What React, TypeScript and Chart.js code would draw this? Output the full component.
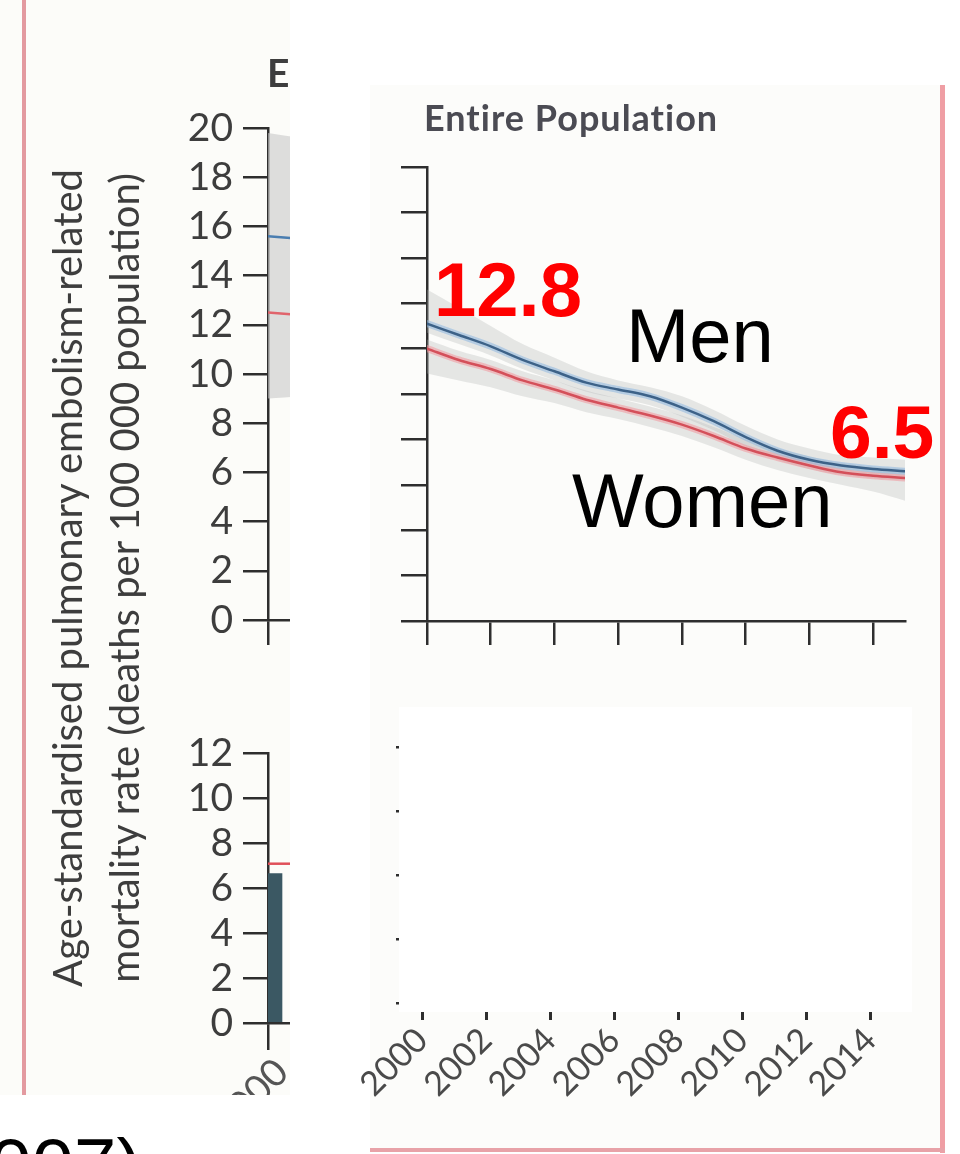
import React, { useEffect, useRef } from "react";
import { Chart, registerables } from "chart.js";

Chart.register(...registerables);

// ---------------- data ----------------
const years = [2000, 2001, 2002, 2003, 2004, 2005, 2006, 2007, 2008, 2009, 2010, 2011, 2012, 2013, 2014, 2015];
const menRate = [13.1, 12.6, 12.1, 11.5, 11.0, 10.5, 10.2, 9.9, 9.4, 8.8, 8.1, 7.5, 7.1, 6.85, 6.7, 6.6];
const womenRate = [12.0, 11.5, 11.1, 10.6, 10.2, 9.75, 9.4, 9.05, 8.65, 8.15, 7.6, 7.2, 6.85, 6.55, 6.4, 6.3];
const menUpper = [14.6, 13.8, 13.0, 12.2, 11.6, 11.0, 10.6, 10.3, 9.9, 9.3, 8.6, 8.0, 7.6, 7.3, 7.2, 7.1];
const menLower = [12.7, 12.2, 11.7, 11.1, 10.6, 10.1, 9.8, 9.5, 9.0, 8.4, 7.7, 7.1, 6.7, 6.45, 6.3, 6.2];
const womenUpper = [12.4, 11.9, 11.5, 11.0, 10.6, 10.15, 9.8, 9.45, 9.05, 8.55, 8.0, 7.6, 7.25, 6.95, 6.8, 6.7];
const womenLower = [10.9, 10.6, 10.3, 9.9, 9.6, 9.2, 8.9, 8.55, 8.15, 7.65, 7.1, 6.65, 6.3, 6.0, 5.7, 5.3];

const leftYears = [2000, 2001];
const leftMen = [15.6, 15.5];
const leftWomen = [12.5, 12.4];
const leftBandUpper = [19.8, 19.6];
const leftBandLower = [9.0, 9.1];

const barCategories = ["2000"];
const barSeriesA = [6.64];
const barSeriesB = [null];
const referenceRate = [7.08];

const panelTitle = "Entire Population";
const yAxisTitle = ["Age-standardised pulmonary embolism-related", "mortality rate (deaths per 100 000 population)"];
const seriesNames = ["Men", "Women"];
const startValueLabel = "12.8";
const endValueLabel = "6.5";
const footnoteText = "(2007)";

// ---------------- helpers ----------------
const AXIS = "#2e2e2e";
const TICK_FONT = "Lato";
const pts = (xs: number[], ys: (number | null)[]) => xs.map((x, i) => ({ x, y: ys[i] }));

const grid = (len: number, width = 2.5) => ({
  drawOnChartArea: false,
  drawTicks: true,
  tickLength: len,
  color: AXIS,
  lineWidth: width,
});
const border = { display: true, color: AXIS, width: 2.5 };

const baseOptions = {
  animation: false,
  responsive: false,
  maintainAspectRatio: false,
  events: [],
  plugins: { legend: { display: false }, tooltip: { enabled: false }, title: { display: false } },
  elements: { point: { radius: 0 }, line: { tension: 0.4, cubicInterpolationMode: "monotone", borderCapStyle: "round" } },
};

const BAND = "rgba(175,178,178,0.3)";

// main (right, top) chart
const mainConfig: any = {
  type: "line",
  data: {
    datasets: [
      { data: pts(years, menRate), borderColor: "#3d6288", borderWidth: 2.5, fill: false, order: 0 },
      { data: pts(years, womenRate), borderColor: "#d4505a", borderWidth: 2.5, fill: false, order: 0 },
      { data: pts(years, menRate), borderColor: "rgba(140,182,222,0.55)", borderWidth: 7, fill: false, order: 1 },
      { data: pts(years, womenRate), borderColor: "rgba(240,150,155,0.55)", borderWidth: 7, fill: false, order: 1 },
      { data: pts(years, menUpper), borderWidth: 0, borderColor: "transparent", fill: "+1", backgroundColor: BAND, order: 2 },
      { data: pts(years, menLower), borderWidth: 0, borderColor: "transparent", fill: false, order: 2 },
      { data: pts(years, womenUpper), borderWidth: 0, borderColor: "transparent", fill: "+1", backgroundColor: BAND, order: 2 },
      { data: pts(years, womenLower), borderWidth: 0, borderColor: "transparent", fill: false, order: 2 },
    ],
  },
  options: {
    ...baseOptions,
    layout: { padding: { left: 31, top: 87, right: 25, bottom: 35 } },
    scales: {
      x: {
        type: "linear",
        min: 2000,
        max: 2015,
        ticks: { display: false, stepSize: 2, includeBounds: false },
        grid: grid(24),
        border,
        afterFit: (s: any) => { s.height = 24; },
      },
      y: {
        min: 0,
        max: 20,
        ticks: { display: false, stepSize: 2 },
        grid: grid(26),
        border,
        afterFit: (s: any) => { s.width = 26; },
      },
    },
  },
};

// left top partial chart
const leftTopConfig: any = {
  type: "line",
  data: {
    datasets: [
      { data: pts(leftYears, leftMen), borderColor: "#4a7db0", borderWidth: 2.5, fill: false, order: 0 },
      { data: pts(leftYears, leftWomen), borderColor: "#e0646c", borderWidth: 2.5, fill: false, order: 0 },
      { data: pts(leftYears, leftBandUpper), borderWidth: 0, borderColor: "transparent", fill: "+1", backgroundColor: "rgba(200,200,200,0.6)", order: 2 },
      { data: pts(leftYears, leftBandLower), borderWidth: 0, borderColor: "transparent", fill: false, order: 2 },
    ],
  },
  options: {
    ...baseOptions,
    layout: { padding: { left: 178, top: 48, right: 12, bottom: 34 } },
    scales: {
      x: {
        type: "linear",
        min: 2000,
        max: 2015,
        ticks: { display: false, stepSize: 2, includeBounds: false },
        grid: grid(25),
        border,
        afterFit: (s: any) => { s.height = 26; },
      },
      y: {
        min: 0,
        max: 20,
        ticks: { stepSize: 2, autoSkip: false, color: "#3d3d3d", padding: 10, font: { family: TICK_FONT, size: 39 } },
        grid: grid(25),
        border,
        afterFit: (s: any) => { s.width = 90; },
      },
    },
  },
};

const refLinePlugin = {
  id: "refLine",
  afterDatasetsDraw(chart: any) {
    const { ctx, chartArea, scales } = chart;
    const y = scales.y.getPixelForValue(referenceRate[0]);
    ctx.save();
    ctx.strokeStyle = "#e0505a";
    ctx.lineWidth = 2.5;
    ctx.beginPath();
    ctx.moveTo(chartArea.left, y);
    ctx.lineTo(chartArea.right, y);
    ctx.stroke();
    ctx.restore();
  },
};

// left bottom partial chart
const leftBottomConfig: any = {
  type: "bar",
  data: {
    labels: barCategories,
    datasets: [
      { data: barSeriesA, backgroundColor: "#3b5863", barPercentage: 1, categoryPercentage: 1 },
      { data: barSeriesB, backgroundColor: "#9aa8ad", barPercentage: 1, categoryPercentage: 1 },
    ],
  },
  options: {
    ...baseOptions,
    layout: { padding: { left: 178, top: 53, right: 80, bottom: 0 } },
    scales: {
      x: {
        ticks: { color: "#555", font: { family: TICK_FONT, size: 38 }, minRotation: 45, maxRotation: 45, padding: 0, autoSkip: false },
        grid: { ...grid(27), offset: true },
        border,
        afterFit: (s: any) => { s.height = 117; },
      },
      y: {
        min: 0,
        max: 12,
        ticks: { stepSize: 2, autoSkip: false, color: "#3d3d3d", padding: 10, font: { family: TICK_FONT, size: 39 } },
        grid: grid(25),
        border,
        afterFit: (s: any) => { s.width = 90; },
      },
    },
  },
  plugins: [refLinePlugin],
};

const whiteAreaPlugin = {
  id: "whiteArea",
  beforeDraw(chart: any) {
    const { ctx, chartArea } = chart;
    ctx.save();
    ctx.fillStyle = "#ffffff";
    ctx.fillRect(chartArea.left, chartArea.top, chartArea.right - chartArea.left, chartArea.bottom - chartArea.top);
    ctx.restore();
  },
};

// right bottom (empty) chart
const rightBottomConfig: any = {
  type: "line",
  data: { datasets: [] },
  options: {
    ...baseOptions,
    layout: { padding: { left: 66, top: 27, right: 18, bottom: 8 } },
    scales: {
      x: {
        type: "linear",
        min: 1999.28,
        max: 2015.3,
        ticks: { stepSize: 2, includeBounds: false, color: "#4a4a4a", font: { family: TICK_FONT, size: 34 }, minRotation: 45, maxRotation: 45, padding: 0, autoSkip: false, callback: (v: any) => String(v) },
        grid: grid(8, 3),
        border: { display: false },
        afterFit: (s: any) => { s.height = 130; },
      },
      y: {
        min: -0.14,
        max: 4.625,
        ticks: { display: false, stepSize: 1, includeBounds: false },
        grid: grid(3, 2.5),
        border: { display: false },
        afterFit: (s: any) => { s.width = 3; },
      },
    },
  },
  plugins: [whiteAreaPlugin],
};

function ChartBox({ left, top, width, height, config }: any) {
  const ref = useRef<HTMLCanvasElement>(null);
  useEffect(() => {
    const chart = new Chart(ref.current as HTMLCanvasElement, config);
    return () => chart.destroy();
  }, []);
  return (
    <canvas
      ref={ref}
      width={width}
      height={height}
      style={{ position: "absolute", left, top, width, height, display: "block" }}
    />
  );
}

const abs = (o: any) => ({ position: "absolute" as const, ...o });

export default function App() {
  return (
    <div style={{ position: "fixed", left: 0, top: 0, width: 960, height: 1154, overflow: "hidden", background: "#ffffff" }}>
      {/* left clipped panel */}
      <div style={abs({ left: 0, top: 0, width: 290, height: 1095, overflow: "hidden", background: "#fcfcf9" })}>
        <div style={abs({ left: 22, top: 0, width: 4, height: 1095, background: "#e39aa0" })} />
        <ChartBox left={0} top={80} width={760} height={600} config={leftTopConfig} />
        <ChartBox left={0} top={700} width={376} height={440} config={leftBottomConfig} />
        <div style={abs({ left: 267, top: 53, font: "bold 39px Lato", lineHeight: "39px", color: "#3d3d3d", whiteSpace: "nowrap" })}>{panelTitle}</div>
        <div
          style={abs({
            left: 96 - 460,
            top: 578 - 57,
            width: 920,
            height: 114,
            transform: "rotate(-90deg)",
            transformOrigin: "50% 50%",
            textAlign: "center",
            font: "40px Lato",
            lineHeight: "57px",
            color: "#3d3d3d",
            whiteSpace: "nowrap",
          })}
        >
          {yAxisTitle[0]}
          <br />
          {yAxisTitle[1]}
        </div>
      </div>

      {/* right panel */}
      <div style={abs({ left: 370, top: 85, width: 574, height: 1065, background: "#fcfcfa" })} />
      <div style={abs({ left: 940, top: 85, width: 5, height: 1068, background: "#ef9ea4" })} />
      <div style={abs({ left: 370, top: 1148, width: 575, height: 4, background: "#e8a2a8" })} />

      <ChartBox left={370} top={80} width={560} height={600} config={mainConfig} />
      <ChartBox left={330} top={680} width={600} height={470} config={rightBottomConfig} />

      <div style={abs({ left: 424, top: 99, font: "bold 36px Lato", letterSpacing: "1px", lineHeight: "36px", color: "#4b4b53", whiteSpace: "nowrap" })}>{panelTitle}</div>

      <div style={abs({ left: 434, top: 252, font: "bold 76px 'Liberation Sans', Arial", lineHeight: "76px", color: "#ff0000", whiteSpace: "nowrap" })}>{startValueLabel}</div>
      <div style={abs({ left: 626, top: 298, font: "76px 'Liberation Sans', Arial", lineHeight: "76px", color: "#000", whiteSpace: "nowrap" })}>{seriesNames[0]}</div>
      <div style={abs({ left: 572, top: 463, font: "76px 'Liberation Sans', Arial", lineHeight: "76px", color: "#000", whiteSpace: "nowrap" })}>{seriesNames[1]}</div>
      <div style={abs({ left: 830, top: 395, font: "bold 75px 'Liberation Sans', Arial", lineHeight: "75px", color: "#ff0000", whiteSpace: "nowrap" })}>{endValueLabel}</div>

      <div style={abs({ left: -78, top: 1128, font: "76px 'Liberation Sans', Arial", lineHeight: "76px", color: "#000", whiteSpace: "nowrap" })}>{footnoteText}</div>
    </div>
  );
}
